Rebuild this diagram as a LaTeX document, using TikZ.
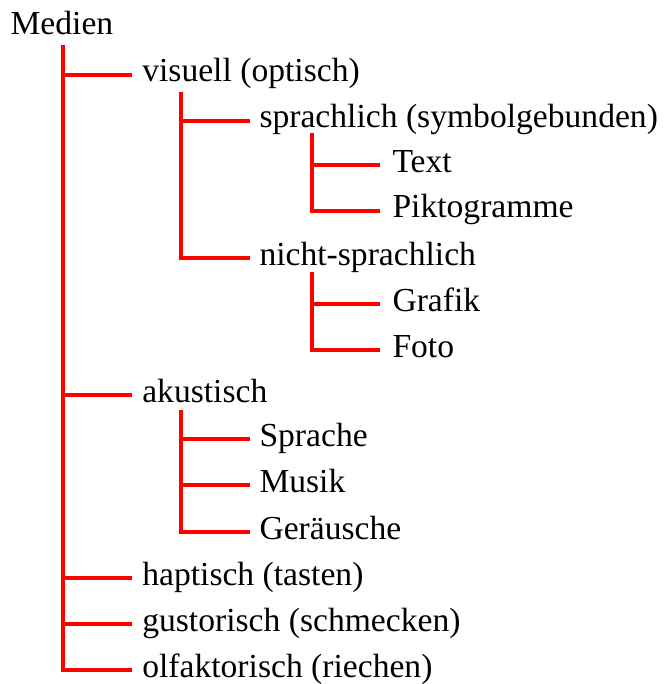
\documentclass[tikz,border=0pt]{standalone}
\usepackage{fontspec}
\setmainfont{Liberation Serif}
\begin{document}
\begin{tikzpicture}[x=0.75pt,y=-0.75pt,
  lbl/.style={anchor=base west,inner sep=0pt,outer sep=0pt,font=\fontsize{25.2}{30}\selectfont},
  conn/.style={draw=red,line width=3pt}]
\useasboundingbox (0,0) rectangle (669,684);
% nodes (baseline = line + 7.5)
\node[lbl] (med) at (10.6,35) {Medien};
\node[lbl] (vis) at (142.3,82) {visuell (optisch)};
\node[lbl] (spr) at (259.5,128) {sprachlich (symbolgebunden)};
\node[lbl] (txt) at (392.5,172.5) {Text};
\node[lbl] (pik) at (392.5,218) {Piktogramme};
\node[lbl] (nsp) at (259.5,265) {nicht-sprachlich};
\node[lbl] (gra) at (392.5,311.5) {Grafik};
\node[lbl] (fot) at (392.5,357) {Foto};
\node[lbl] (aku) at (142.3,402.5) {akustisch};
\node[lbl] (sp2) at (259.5,446.5) {Sprache};
\node[lbl] (mus) at (259.5,492.5) {Musik};
\node[lbl] (ger) at (259.5,539.5) {Geräusche};
\node[lbl] (hap) at (142.3,585.5) {haptisch (tasten)};
\node[lbl] (gus) at (142.3,631.5) {gustorisch (schmecken)};
\node[lbl] (olf) at (142.3,677) {olfaktorisch (riechen)};
% branch tops
\coordinate (t0) at (63,45);
\coordinate (t1) at (181,92);
\coordinate (t2) at (312,133);
\coordinate (t3) at (312,272.3);
\coordinate (t4) at (181.3,410);
% connectors
\foreach \c in {vis,aku,hap,gus,olf}
  \draw[conn] (t0) |- ([xshift=-7.9pt,yshift=5.6pt]\c.base west);
\foreach \c in {spr,nsp}
  \draw[conn] (t1) |- ([xshift=-7.1pt,yshift=5.6pt]\c.base west);
\foreach \c in {txt,pik}
  \draw[conn] (t2) |- ([xshift=-9.4pt,yshift=5.6pt]\c.base west);
\foreach \c in {gra,fot}
  \draw[conn] (t3) |- ([xshift=-9.4pt,yshift=5.6pt]\c.base west);
\foreach \c in {sp2,mus,ger}
  \draw[conn] (t4) |- ([xshift=-7.1pt,yshift=5.6pt]\c.base west);
\end{tikzpicture}
\end{document}
